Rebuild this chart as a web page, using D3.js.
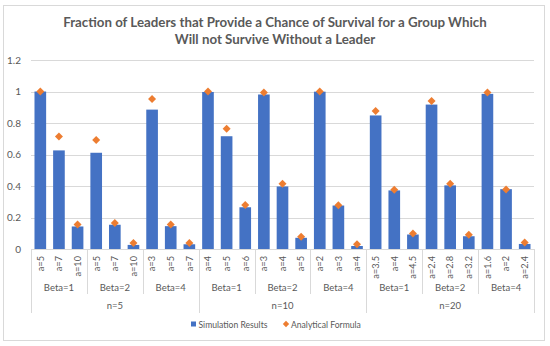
<!DOCTYPE html>
<html>
<head>
<meta charset="utf-8">
<script src="https://cdn.jsdelivr.net/npm/d3@7"></script>
<style>
  html, body { margin: 0; padding: 0; background: #fff; }
  svg { display: block; font-family: Lato, "Open Sans", sans-serif; }
</style>
</head>
<body>
<div id="chart"></div>
<script>
"use strict";

const titleLines = [
  'Fraction of Leaders that Provide a Chance of Survival for a Group Which',
  'Will not Survive Without a Leader'
];

const nGroups = ['n=5', 'n=10', 'n=20'];
const betaGroups = ['Beta=1', 'Beta=2', 'Beta=4'];

// a-values for each (n, beta) pair, in order
const aLabels = [
  ['a=5', 'a=7', 'a=10'], ['a=5', 'a=7', 'a=10'], ['a=3', 'a=5', 'a=7'],
  ['a=4', 'a=5', 'a=6'], ['a=3', 'a=4', 'a=5'], ['a=2', 'a=3', 'a=4'],
  ['a=3.5', 'a=4', 'a=4.5'], ['a=2.4', 'a=2.8', 'a=3.2'], ['a=1.6', 'a=2', 'a=2.4']
];

const simulation = [
  1.0, 0.626, 0.143, 0.611, 0.154, 0.026, 0.885, 0.145, 0.03,
  0.997, 0.716, 0.265, 0.981, 0.397, 0.071, 0.999, 0.276, 0.019,
  0.848, 0.372, 0.092, 0.917, 0.404, 0.081, 0.985, 0.38, 0.032
];

const analytical = [
  1.0, 0.714, 0.156, 0.692, 0.165, 0.038, 0.953, 0.156, 0.038,
  1.0, 0.763, 0.28, 0.994, 0.415, 0.077, 1.0, 0.278, 0.03,
  0.876, 0.376, 0.098, 0.94, 0.415, 0.09, 0.994, 0.378, 0.041
];

const yTicks = [0, 0.2, 0.4, 0.6, 0.8, 1, 1.2];
const legendItems = ['Simulation Results', 'Analytical Formula'];

const BAR_COLOR = '#4472C4'
    , DOT_COLOR = '#ED7D31'
    , GRID_COLOR = '#D9D9D9'
    , TEXT_COLOR = '#595959'

const width = 550
    , height = 346
    , plot = { left: 31, right: 534, top: 60, bottom: 249 }

// flat list of categories with their group info
const cats = [];
aLabels.forEach((list, gi) => {
  list.forEach(a => {
    cats.push({
      id: cats.length,
      a,
      beta: betaGroups[gi % 3],
      n: nGroups[Math.floor(gi / 3)]
    });
  });
});

const svg = d3.select('#chart').append('svg')
  .attr('width', width)
  .attr('height', height)

// outer chart frame
svg.append('rect')
  .attr('x', 3.5).attr('y', 5.5)
  .attr('width', 541).attr('height', 335)
  .attr('fill', '#fff')
  .attr('stroke', '#D9D9D9')

// title
svg.append('text')
  .attr('x', 275)
  .attr('y', 27)
  .attr('text-anchor', 'middle')
  .attr('fill', TEXT_COLOR)
  .style('font-size', '13.3px')
  .style('font-weight', 'bold')
  .selectAll('tspan')
  .data(titleLines)
  .join('tspan')
    .attr('x', 275)
    .attr('dy', (d, i) => i === 0 ? 0 : 17)
    .text(d => d)

/*
 * scales
 ***/
const x = d3.scaleBand()
  .domain(cats.map(d => d.id))
  .range([plot.left, plot.right])
  .paddingInner(0.375)
  .paddingOuter(0.1875)

const y = d3.scaleLinear()
  .domain([0, 1.2])
  .range([plot.bottom, plot.top])

/*
 * y gridlines and labels
 ***/
const yAxis = d3.axisLeft(y)
  .tickValues(yTicks)
  .tickSize(-(plot.right - plot.left))
  .tickPadding(10)
  .tickFormat(d3.format('~g'))

const yG = svg.append('g')
  .attr('transform', `translate(${plot.left},0)`)
  .call(yAxis)

yG.select('.domain').remove()
yG.selectAll('.tick line')
  .attr('stroke', GRID_COLOR)
  .attr('stroke-width', 1)
  .attr('shape-rendering', 'crispEdges')
yG.selectAll('.tick text')
  .attr('fill', TEXT_COLOR)
  .style('font-size', '10px')
  .style('font-family', 'Lato, sans-serif')

/*
 * bars and diamonds
 ***/
svg.append('g')
  .selectAll('rect')
  .data(cats)
  .join('rect')
    .attr('x', d => x(d.id))
    .attr('width', x.bandwidth())
    .attr('y', d => y(simulation[d.id]))
    .attr('height', d => y(0) - y(simulation[d.id]))
    .attr('fill', BAR_COLOR)

const diamond = d3.symbol().type(d3.symbolSquare).size(32)

svg.append('g')
  .selectAll('path')
  .data(cats)
  .join('path')
    .attr('d', diamond)
    .attr('transform', d => `translate(${x(d.id) + x.bandwidth() / 2},${y(analytical[d.id])}) rotate(45)`)
    .attr('fill', DOT_COLOR)

/*
 * multi-level category axis
 ***/
const axisG = svg.append('g')
  .attr('stroke', GRID_COLOR)
  .attr('shape-rendering', 'crispEdges')

axisG.append('line')
  .attr('x1', plot.left).attr('x2', plot.right)
  .attr('y1', plot.bottom + 0.5).attr('y2', plot.bottom + 0.5)

const step = x.step()
  , edgeX = i => plot.left + step * i

// dividers: between beta groups short, between n groups long
for (let i = 0; i <= cats.length; i += 3) {
  const long = i % 9 === 0;
  axisG.append('line')
    .attr('x1', Math.round(edgeX(i)) + 0.5)
    .attr('x2', Math.round(edgeX(i)) + 0.5)
    .attr('y1', plot.bottom)
    .attr('y2', long ? 313 : 294)
}

svg.append('g')
  .selectAll('text')
  .data(cats)
  .join('text')
    .attr('transform', d => `translate(${x(d.id) + x.bandwidth() / 2 + 3.3},256) rotate(-90)`)
    .attr('text-anchor', 'end')
    .attr('fill', TEXT_COLOR)
    .style('font-size', '9.2px')
    .text(d => d.a)

svg.append('g')
  .selectAll('text')
  .data(d3.range(9))
  .join('text')
    .attr('x', i => edgeX(i * 3 + 1.5))
    .attr('y', 291)
    .attr('text-anchor', 'middle')
    .attr('fill', TEXT_COLOR)
    .style('font-size', '9.5px')
    .text(i => betaGroups[i % 3])

svg.append('g')
  .selectAll('text')
  .data(nGroups)
  .join('text')
    .attr('x', (d, i) => edgeX(i * 9 + 4.5))
    .attr('y', 309)
    .attr('text-anchor', 'middle')
    .attr('fill', TEXT_COLOR)
    .style('font-size', '9.5px')
    .text(d => d)

/*
 * legend
 ***/
const legend = svg.append('g')
  .attr('transform', 'translate(0,328)')

legend.append('rect')
  .attr('x', 191).attr('y', -6.5)
  .attr('width', 5).attr('height', 5)
  .attr('fill', BAR_COLOR)

legend.append('path')
  .attr('d', d3.symbol().type(d3.symbolSquare).size(20))
  .attr('transform', 'translate(286,-4) rotate(45)')
  .attr('fill', DOT_COLOR)

legend.selectAll('text')
  .data(legendItems)
  .join('text')
    .attr('x', (d, i) => i === 0 ? 198.5 : 291)
    .attr('y', 0)
    .attr('fill', TEXT_COLOR)
    .style('font-size', '8.6px')
    .text(d => d)
</script>
</body>
</html>
